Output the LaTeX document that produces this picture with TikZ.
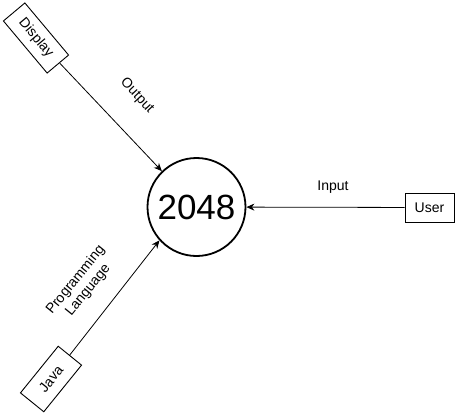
\documentclass[tikz,border=0pt]{standalone}
\usepackage{fontspec}
\setmainfont{Liberation Sans}
\usetikzlibrary{arrows.meta}
\begin{document}
\begin{tikzpicture}[x=1pt,y=-1pt,
  box/.style={draw,line width=0.9pt,minimum width=#1,minimum height=29pt,inner sep=0pt,font=\fontsize{14}{16}\selectfont},
  lbl/.style={font=\fontsize{14}{16}\selectfont,inner sep=0pt,align=center},
  conn/.style={line width=0.8pt,-{Stealth[length=8pt,width=7pt]}}]
\useasboundingbox (0,0) rectangle (456,413);
\node[circle,draw,line width=1.8pt,minimum size=98pt,inner sep=0pt,font=\fontsize{35}{40}\selectfont] (c) at (196.5,207) {2048};
\node[box=49pt] (user) at (429.5,207.5) {User};
\node[box=68pt,minimum height=28pt,rotate=-50] (disp) at (36,38) {Display};
\node[box=60pt,minimum height=30pt,rotate=51] (java) at (51,379) {Java};
\draw[conn] (user) -- (c);
\draw[conn] (disp) -- (c.134);
\draw[conn] (java) -- (c.222);
\node[lbl] (lin) at (333,187) {Input};
\node[lbl,rotate=-47] (lout) at (137,96) {Output};
\node[lbl,rotate=51] (lpl) at (82,285) {Programming\\Language};
\end{tikzpicture}
\end{document}
